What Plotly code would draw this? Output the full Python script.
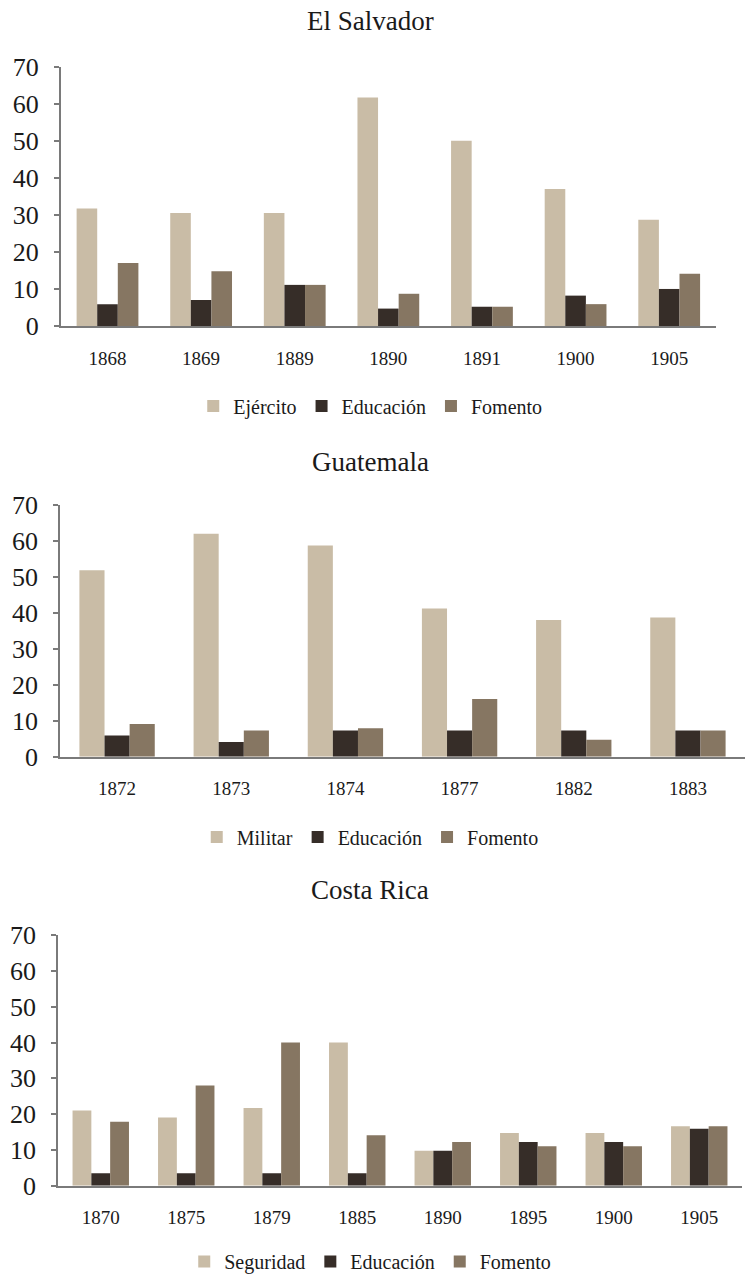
import plotly.graph_objects as go

# ---------------- data ----------------
sv_years = ["1868", "1869", "1889", "1890", "1891", "1900", "1905"]
sv_ejercito = [31.7, 30.5, 30.5, 61.7, 50.0, 37.0, 28.7]
sv_educacion = [5.9, 7.0, 11.1, 4.7, 5.2, 8.2, 10.0]
sv_fomento = [17.0, 14.8, 11.1, 8.7, 5.2, 5.9, 14.1]

gt_years = ["1872", "1873", "1874", "1877", "1882", "1883"]
gt_militar = [51.8, 61.9, 58.7, 41.2, 38.0, 38.7]
gt_educacion = [5.9, 4.1, 7.3, 7.3, 7.3, 7.3]
gt_fomento = [9.1, 7.3, 7.9, 16.0, 4.7, 7.3]

cr_years = ["1870", "1875", "1879", "1885", "1890", "1895", "1900", "1905"]
cr_seguridad = [21.0, 19.1, 21.7, 40.0, 9.8, 14.7, 14.7, 16.6]
cr_educacion = [3.5, 3.5, 3.5, 3.5, 9.8, 12.2, 12.2, 15.9]
cr_fomento = [17.9, 28.0, 40.0, 14.1, 12.2, 11.0, 11.0, 16.6]

titles = ["El Salvador", "Guatemala", "Costa Rica"]
y_ticks = [0, 10, 20, 30, 40, 50, 60, 70]

# ---------------- style ----------------
C_LIGHT = "#C9BCA6"
C_DARK = "#362D28"
C_MID = "#867662"
FONT = "Liberation Serif"
H = 1281
W = 751

fig = go.Figure()

panels = [
    (sv_years, [("Ejército", sv_ejercito, C_LIGHT), ("Educación", sv_educacion, C_DARK), ("Fomento", sv_fomento, C_MID)]),
    (gt_years, [("Militar", gt_militar, C_LIGHT), ("Educación", gt_educacion, C_DARK), ("Fomento", gt_fomento, C_MID)]),
    (cr_years, [("Seguridad", cr_seguridad, C_LIGHT), ("Educación", cr_educacion, C_DARK), ("Fomento", cr_fomento, C_MID)]),
]

# pixel layout (top, bottom, left, right)
boxes = [(66.7, 326.0, 60.7, 716.0), (504.7, 756.7, 60.0, 745.0), (935.3, 1185.7, 58.0, 742.0)]
title_y = [21, 462, 890]
legend_y = [406, 837, 1266]

layout = {}
for i, ((cats, series), (top, bot, left, right)) in enumerate(zip(panels, boxes)):
    n = i + 1
    xa = "x" if n == 1 else f"x{n}"
    ya = "y" if n == 1 else f"y{n}"
    lg = "legend" if n == 1 else f"legend{n}"
    for name, vals, col in series:
        fig.add_trace(go.Bar(
            x=cats, y=vals, name=name, marker_color=col,
            marker_line_width=0, xaxis=xa, yaxis=ya, legend=lg,
        ))
    xkey = "xaxis" if n == 1 else f"xaxis{n}"
    ykey = "yaxis" if n == 1 else f"yaxis{n}"
    layout[xkey] = dict(
        domain=[left / W, right / W], anchor=ya, type="category",
        showline=True, linecolor="#7a7a7a", linewidth=1.5,
        ticks="", showgrid=False, zeroline=False, automargin=False,
        tickfont=dict(family=FONT, size=19, color="#1a1a1a"),
        ticklabelstandoff=14,
    )
    layout[ykey] = dict(
        domain=[1 - bot / H, 1 - top / H], anchor=xa, range=[0, 70],
        tickvals=y_ticks, showline=True, linecolor="#7a7a7a", linewidth=1.5,
        ticks="outside", ticklen=5, tickcolor="#7a7a7a", tickwidth=1.5,
        showgrid=False, zeroline=False, automargin=False,
        tickfont=dict(family=FONT, size=26, color="#1a1a1a"),
        ticklabelstandoff=10,
    )
    layout[lg] = dict(
        orientation="h", x=0.493, xanchor="center",
        y=max(1 - legend_y[i] / H, 0.0) if i < 2 else 0.0,
        yanchor="middle" if i < 2 else "bottom",
        font=dict(family=FONT, size=20, color="#1a1a1a"),
        bgcolor="rgba(0,0,0,0)", itemclick=False, borderwidth=0,
    )

annotations = []
for t, yy in zip(titles, title_y):
    annotations.append(dict(
        text=t, x=0.493, xref="paper", y=1 - yy / H, yref="paper",
        xanchor="center", yanchor="middle", showarrow=False,
        font=dict(family=FONT, size=27, color="#1a1a1a"),
    ))

fig.update_layout(
    width=W, height=H, margin=dict(l=0, r=0, t=0, b=0, autoexpand=False),
    paper_bgcolor="white", plot_bgcolor="white",
    barmode="group", bargroupgap=0.0, bargap=0.34,
    annotations=annotations, showlegend=True,
    **layout,
)

fig.write_html("out.html")
